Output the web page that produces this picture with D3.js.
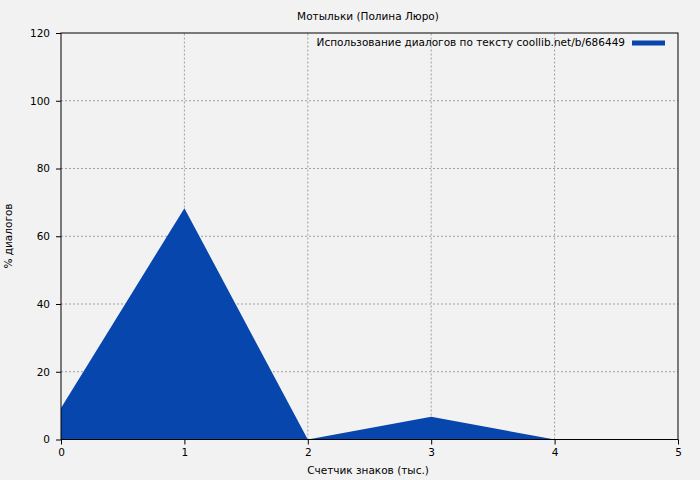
<!DOCTYPE html>
<html>
<head>
<meta charset="utf-8">
<script src="https://cdn.jsdelivr.net/npm/d3@7"></script>
<style>
body { margin: 0; background: #f2f2f2; }
text { font-family: "DejaVu Sans", sans-serif; font-size: 10.5px; fill: #000; }
</style>
</head>
<body>
<div id="chart"></div>
<script>
var xValues = [0, 1, 2, 3, 4, 5];
var yValues = [9.3, 68.3, 0, 6.7, 0, 0];
var xTicks = [0, 1, 2, 3, 4, 5];
var yTicks = [0, 20, 40, 60, 80, 100, 120];
var title = "Мотыльки (Полина Люро)";
var legendLabel = "Использование диалогов по тексту coollib.net/b/686449";
var xLabel = "Счетчик знаков (тыс.)";
var yLabel = "% диалогов";

var width = 700, height = 480;
var margin = {left: 61, right: 22, top: 33, bottom: 40.5};
var fill = "#0646ad";

var svg = d3.select("#chart").append("svg")
    .attr("width", width)
    .attr("height", height)
    .style("background", "#f2f2f2");

var x = d3.scaleLinear().domain([0, 5]).range([margin.left, width - margin.right]);
var y = d3.scaleLinear().domain([0, 120]).range([height - margin.bottom, margin.top]);

var data = xValues.map(function(v, i) { return {x: v, y: yValues[i]}; });

// grid
svg.append("g").selectAll("line")
    .data(xTicks.slice(1, -1))
    .enter().append("line")
    .attr("x1", function(d) { return x(d); })
    .attr("x2", function(d) { return x(d); })
    .attr("y1", y(0)).attr("y2", y(120))
    .attr("stroke", "#a0a0a0")
    .attr("stroke-dasharray", "2,2");
svg.append("g").selectAll("line")
    .data(yTicks.slice(1, -1))
    .enter().append("line")
    .attr("y1", function(d) { return y(d); })
    .attr("y2", function(d) { return y(d); })
    .attr("x1", x(0)).attr("x2", x(5))
    .attr("stroke", "#a0a0a0")
    .attr("stroke-dasharray", "2,2");

var area = d3.area()
    .x(function(d) { return x(d.x); })
    .y0(y(0))
    .y1(function(d) { return y(d.y); });

svg.append("path")
    .datum(data)
    .attr("d", area)
    .attr("fill", fill);

// frame
svg.append("rect")
    .attr("x", x(0)).attr("y", y(120))
    .attr("width", x(5) - x(0)).attr("height", y(0) - y(120))
    .attr("fill", "none")
    .attr("stroke", "#000");

var xAxis = svg.append("g")
    .attr("transform", "translate(0," + y(0) + ")")
    .call(d3.axisBottom(x).tickValues(xTicks).tickSize(5).tickPadding(4).tickFormat(d3.format("d")));
var yAxis = svg.append("g")
    .attr("transform", "translate(" + x(0) + ",0)")
    .call(d3.axisLeft(y).tickValues(yTicks).tickSize(5).tickPadding(6).tickFormat(d3.format("d")));
[xAxis, yAxis].forEach(function(a) {
    a.select(".domain").remove();
    a.selectAll("text").style("font-family", "DejaVu Sans, sans-serif").style("font-size", "10.5px");
});

svg.append("text")
    .attr("x", 368).attr("y", 20)
    .attr("text-anchor", "middle")
    .text(title);

svg.append("text")
    .attr("x", 368).attr("y", 474)
    .attr("text-anchor", "middle")
    .text(xLabel);

svg.append("text")
    .attr("transform", "translate(12," + 236 + ") rotate(-90)")
    .attr("text-anchor", "middle")
    .text(yLabel);

svg.append("text")
    .attr("x", 625).attr("y", 46)
    .attr("text-anchor", "end")
    .text(legendLabel);
svg.append("line")
    .attr("x1", 632).attr("x2", 665)
    .attr("y1", 43).attr("y2", 43)
    .attr("stroke", fill)
    .attr("stroke-width", 5);
</script>
</body>
</html>
